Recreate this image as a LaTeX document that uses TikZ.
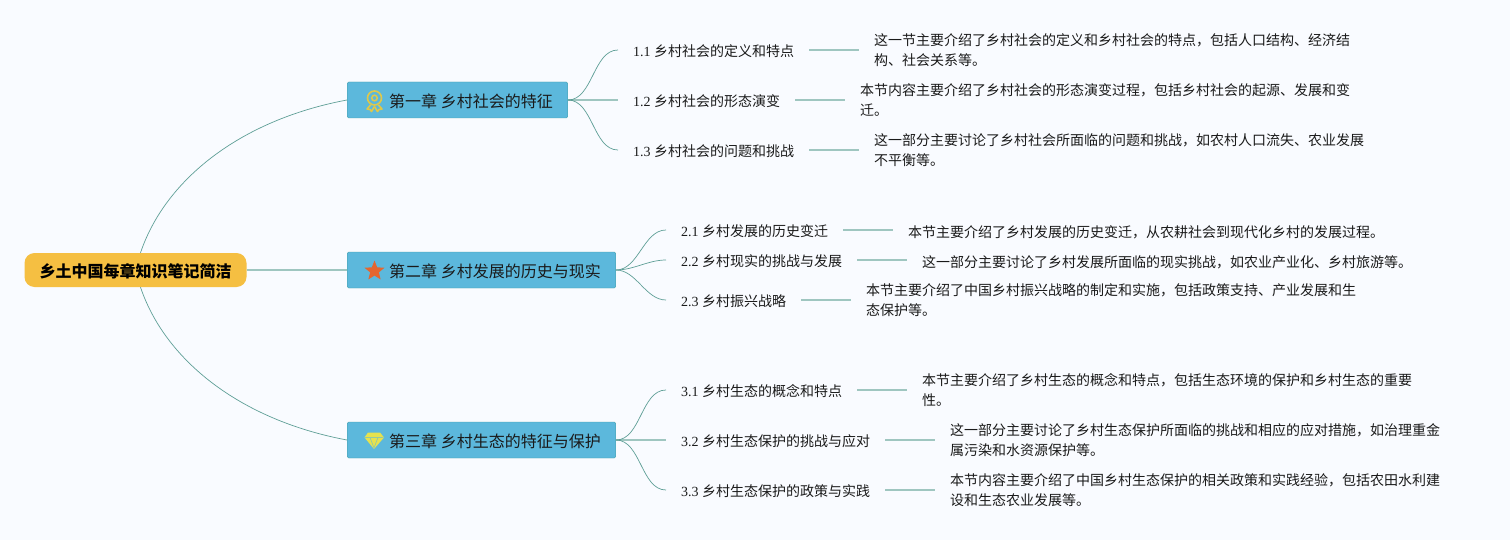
\documentclass[tikz,border=0pt]{standalone}
\usepackage{fontspec}
\setmainfont{Liberation Serif}
\newfontfamily\cjk{Noto Sans CJK SC}
\usetikzlibrary{shapes.geometric}
\definecolor{PageBg}{HTML}{F9FBFF}
\definecolor{RootFill}{HTML}{F5BF42}
\definecolor{ChapFill}{HTML}{5CB8DC}
\definecolor{ChapEdge}{HTML}{439CA3}
\definecolor{LinkDark}{HTML}{5F9F97}
\definecolor{LinkPale}{HTML}{9FC6C0}
\definecolor{TextDark}{HTML}{1A1A1A}
\definecolor{MedalYellow}{HTML}{E0C84A}
\definecolor{StarOrange}{HTML}{E4662F}
\definecolor{GemYellow}{HTML}{E6E24E}
\tikzset{
    rootnode/.style={draw=none, fill=RootFill, rounded corners=10pt, minimum width=222pt, minimum height=34pt, inner sep=0pt, text height=18.7pt, text depth=3pt, font=\cjk\bfseries\fontsize{16}{20}\selectfont},
    chapnode/.style={draw=ChapEdge, fill=ChapFill, rounded corners=1.5pt, minimum height=36pt, inner xsep=15pt, inner ysep=0pt, anchor=west, text=TextDark, text height=18.7pt, text depth=3pt, font=\cjk\fontsize{16}{20}\selectfont},
    secnode/.style={anchor=west, inner xsep=15pt, inner ysep=0pt, text=TextDark, text height=15.6pt, text depth=3pt, font=\fontsize{14}{20}\selectfont},
    detnode/.style={anchor=west, align=left, inner xsep=15pt, inner ysep=0pt, text=TextDark, font=\cjk\fontsize{14}{20.5}\selectfont, execute at begin node={\rule{0pt}{16pt}}},
    detlong/.style={detnode, execute at begin node={\rule{0pt}{23pt}}},
    curvelink/.style={LinkDark, line width=0.7pt},
    flatlink/.style={LinkPale, line width=1.5pt},
}
\begin{document}
\begin{tikzpicture}[x=1pt, y=-1pt]
    \useasboundingbox (0,0) rectangle (1510,540);
    \fill[PageBg] (0,0) rectangle (1510,540);

    % links from the root
    \node[rootnode] (root) at (135.5,270) {乡土中国每章知识笔记简洁};
    \node[chapnode] (ch1) at (347,100) {\hspace*{27pt}第一章 乡村社会的特征};
    \node[chapnode] (ch2) at (347,270) {\hspace*{27pt}第二章 乡村发展的历史与现实};
    \node[chapnode] (ch3) at (347,440) {\hspace*{27pt}第三章 乡村生态的特征与保护};
    \draw[curvelink] ([xshift=5pt]root.north) .. controls (165,180) and (240,120) .. (ch1.west);
    \draw[curvelink] ([xshift=5pt]root.south) .. controls (165,360) and (240,420) .. (ch3.west);
    \draw[flatlink] (root.east) -- (ch2.west);

    % chapter one
    \node[secnode] (s11) at (618,50) {1.1 {\cjk 乡村社会的定义和特点}};
    \node[secnode] (s12) at (618,100) {1.2 {\cjk 乡村社会的形态演变}};
    \node[secnode] (s13) at (618,150) {1.3 {\cjk 乡村社会的问题和挑战}};
    \node[detlong] (d11) at (859,50) {这一节主要介绍了乡村社会的定义和乡村社会的特点，包括人口结构、经济结\\构、社会关系等。};
    \node[detlong] (d12) at (845,100) {本节内容主要介绍了乡村社会的形态演变过程，包括乡村社会的起源、发展和变\\迁。};
    \node[detlong] (d13) at (859,150) {这一部分主要讨论了乡村社会所面临的问题和挑战，如农村人口流失、农业发展\\不平衡等。};

    % chapter two
    \node[secnode] (s21) at (666,230) {2.1 {\cjk 乡村发展的历史变迁}};
    \node[secnode] (s22) at (666,260) {2.2 {\cjk 乡村现实的挑战与发展}};
    \node[secnode] (s23) at (666,300) {2.3 {\cjk 乡村振兴战略}};
    \node[detnode] (d21) at (893,230) {本节主要介绍了乡村发展的历史变迁，从农耕社会到现代化乡村的发展过程。};
    \node[detnode] (d22) at (907,260) {这一部分主要讨论了乡村发展所面临的现实挑战，如农业产业化、乡村旅游等。};
    \node[detlong] (d23) at (851,300) {本节主要介绍了中国乡村振兴战略的制定和实施，包括政策支持、产业发展和生\\态保护等。};

    % chapter three
    \node[secnode] (s31) at (666,390) {3.1 {\cjk 乡村生态的概念和特点}};
    \node[secnode] (s32) at (666,440) {3.2 {\cjk 乡村生态保护的挑战与应对}};
    \node[secnode] (s33) at (666,490) {3.3 {\cjk 乡村生态保护的政策与实践}};
    \node[detlong] (d31) at (907,390) {本节主要介绍了乡村生态的概念和特点，包括生态环境的保护和乡村生态的重要\\性。};
    \node[detlong] (d32) at (935,440) {这一部分主要讨论了乡村生态保护所面临的挑战和相应的应对措施，如治理重金\\属污染和水资源保护等。};
    \node[detlong] (d33) at (935,490) {本节内容主要介绍了中国乡村生态保护的相关政策和实践经验，包括农田水利建\\设和生态农业发展等。};

    \draw[flatlink] (ch1.east) -- (s12.west);
    \draw[flatlink] (ch3.east) -- (s32.west);
    \foreach \c/\s in {ch1/s11, ch1/s13, ch2/s21, ch2/s22, ch2/s23, ch3/s31, ch3/s33}
        \draw[curvelink] (\c.east) to[out=0, in=180, looseness=0.9] (\s.west);
    \foreach \s/\d in {s11/d11, s12/d12, s13/d13, s21/d21, s22/d22, s23/d23, s31/d31, s32/d32, s33/d33}
        \draw[flatlink] (\s.east) -- (\d.west);

    % icons
    \foreach \m in {1,-1}
        \draw[MedalYellow, line width=1.6pt, line join=round, xshift=374.5pt, x=\m pt] (-4,105) -- (-7.5,109) -- (-4.5,109.5) -- (-3,111.5) -- (0,106.5);
    \draw[MedalYellow, line width=1.6pt, fill=ChapFill] (374.5,98) circle (7);
    \draw[MedalYellow, line width=1.5pt] (374.5,98) circle (2.8);
    \node[star, star points=5, star point ratio=2.3, fill=StarOrange, minimum size=21pt, inner sep=0pt] (starmark) at (374.5,271) {};
    \fill[GemYellow] (368,432.5) -- (380,432.5) -- (384,437.5) -- (374,449) -- (364.5,437.5) -- cycle;
    \draw[ChapFill!60!GemYellow, line width=0.7pt] (365,437.5) -- (383.5,437.5) (370,437.5) -- (374,448) -- (378,437.5);
\end{tikzpicture}
\end{document}
